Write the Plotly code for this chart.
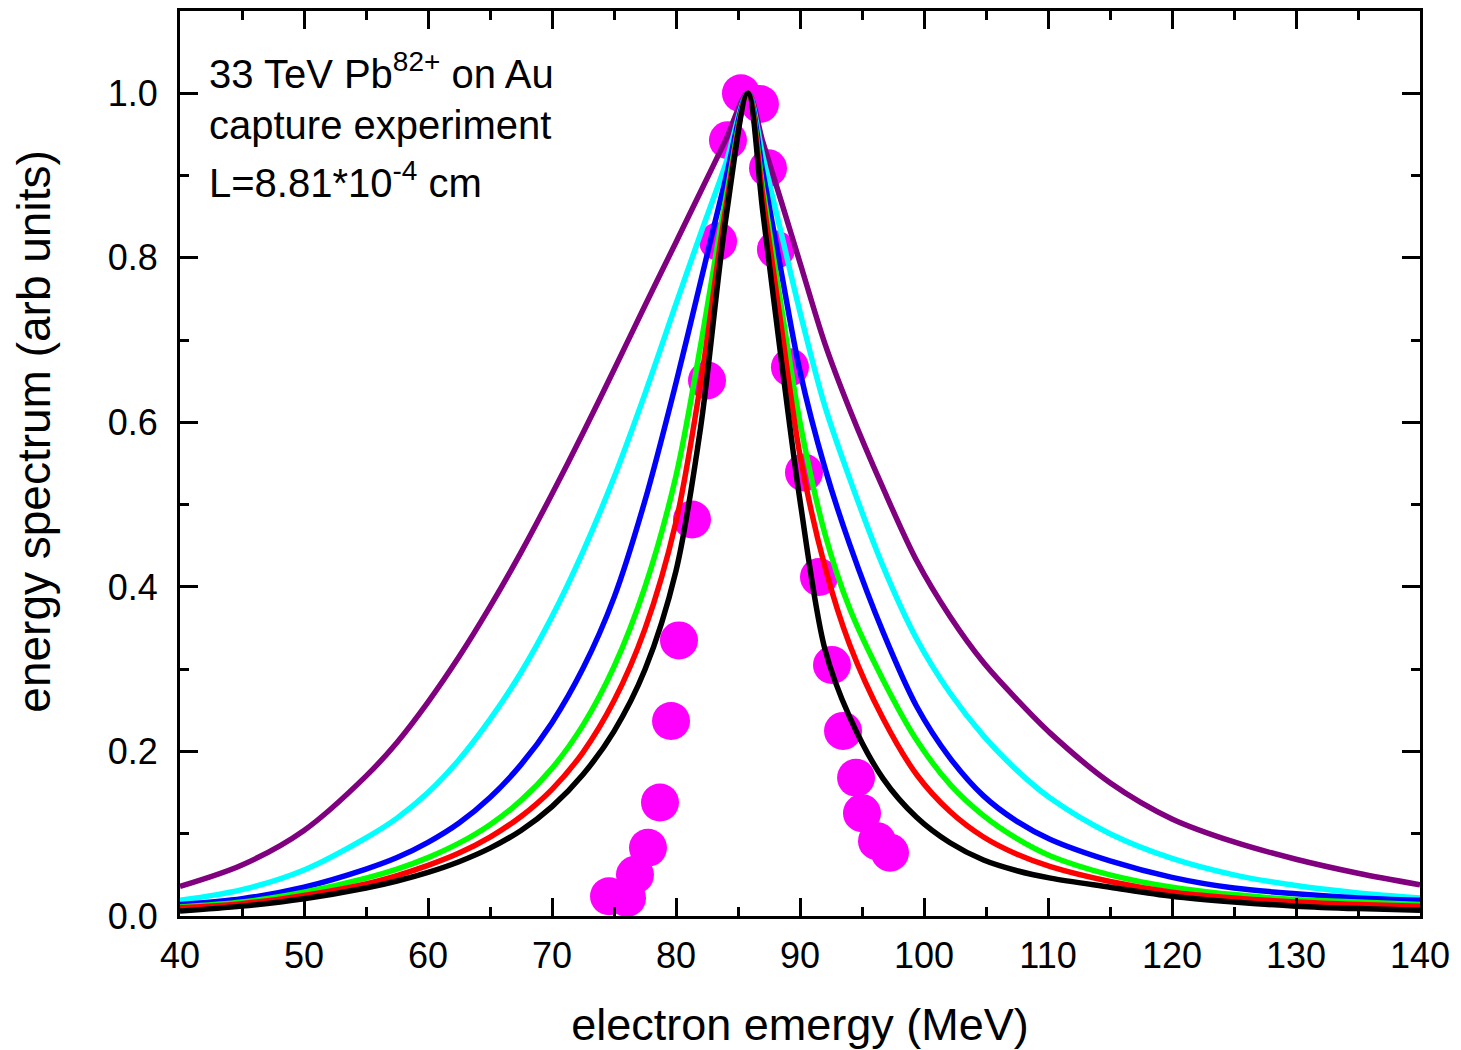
import plotly.graph_objects as go

# ---- data ----
x_grid = [40, 45, 50, 55, 57.5, 60, 62.5, 65, 67.5, 70, 72.5, 75, 77.5, 80, 82, 84, 85.8,
          87, 88.5, 90, 92, 94, 96.7, 99.4, 102.1, 104.8, 107.5, 110.2, 115, 120, 125, 130, 135, 140]

purple = [0.036, 0.062, 0.104, 0.170, 0.211, 0.260, 0.315, 0.376, 0.442, 0.513, 0.587, 0.664, 0.742, 0.819, 0.881, 0.943, 1.0,
          0.941, 0.868, 0.794, 0.696, 0.616, 0.520, 0.432, 0.364, 0.308, 0.263, 0.222, 0.162, 0.118, 0.090, 0.069, 0.052, 0.038]
cyan = [0.019, 0.032, 0.056, 0.095, 0.119, 0.150, 0.190, 0.239, 0.296, 0.364, 0.443, 0.533, 0.635, 0.744, 0.830, 0.914, 1.0,
        0.924, 0.829, 0.734, 0.620, 0.532, 0.425, 0.337, 0.271, 0.219, 0.177, 0.143, 0.100, 0.070, 0.050, 0.037, 0.028, 0.022]
blue = [0.014, 0.021, 0.035, 0.057, 0.071, 0.0895, 0.113, 0.144, 0.184, 0.235, 0.301, 0.387, 0.505, 0.648, 0.772, 0.896, 1.0,
        0.905, 0.782, 0.662, 0.545, 0.452, 0.345, 0.255, 0.192, 0.146, 0.115, 0.093, 0.067, 0.047, 0.034, 0.027, 0.022, 0.019]
green = [0.011, 0.017, 0.029, 0.046, 0.057, 0.071, 0.0885, 0.111, 0.1405, 0.1795, 0.232, 0.303, 0.400, 0.535, 0.695, 0.871, 1.0,
         0.885, 0.740, 0.600, 0.465, 0.374, 0.287, 0.214, 0.160, 0.122, 0.094, 0.073, 0.050, 0.035, 0.026, 0.020, 0.017, 0.014]
red = [0.010, 0.015, 0.025, 0.039, 0.049, 0.0615, 0.0765, 0.096, 0.121, 0.154, 0.199, 0.2615, 0.349, 0.479, 0.649, 0.859, 1.0,
       0.875, 0.715, 0.560, 0.425, 0.330, 0.240, 0.172, 0.127, 0.096, 0.075, 0.060, 0.042, 0.029, 0.022, 0.017, 0.014, 0.012]
black = [0.006, 0.012, 0.021, 0.034, 0.0425, 0.053, 0.066, 0.0825, 0.104, 0.133, 0.172, 0.2245, 0.2995, 0.4195, 0.5955, 0.8455, 1.0,
         0.856, 0.675, 0.505, 0.325, 0.242, 0.167, 0.120, 0.089, 0.068, 0.055, 0.046, 0.035, 0.024, 0.017, 0.012, 0.009, 0.007]

exp_x = [74.6, 76.05, 76.69, 77.74, 78.71, 79.60, 80.24, 81.29, 82.50, 83.39, 84.19, 85.24,
         86.77, 87.42, 88.06, 89.19, 90.32, 91.53, 92.58, 93.47, 94.52, 95.0, 96.21, 97.26]
exp_y = [0.024, 0.022, 0.050, 0.083, 0.138, 0.237, 0.335, 0.482, 0.651, 0.820, 0.943, 1.000,
         0.987, 0.909, 0.810, 0.667, 0.539, 0.412, 0.305, 0.225, 0.168, 0.125, 0.091, 0.077]

x_ticks = [40, 50, 60, 70, 80, 90, 100, 110, 120, 130, 140]
y_ticks = [0.0, 0.2, 0.4, 0.6, 0.8, 1.0]
y_tick_labels = ["0.0", "0.2", "0.4", "0.6", "0.8", "1.0"]

curves = [("purple", purple, "#800080"), ("cyan", cyan, "#00FFFF"), ("blue", blue, "#0000FF"),
          ("green", green, "#00FF00"), ("red", red, "#FF0000"), ("black", black, "#000000")]

FONT = "Liberation Sans, Arial, sans-serif"

fig = go.Figure()
fig.add_trace(go.Scatter(x=exp_x, y=exp_y, mode="markers",
                         marker=dict(size=38, color="#FF00FF", line=dict(width=0)),
                         showlegend=False))
for name, ys, col in curves:
    fig.add_trace(go.Scatter(x=x_grid, y=ys, mode="lines", name=name,
                             line=dict(color=col, width=5.5, shape="spline", smoothing=0.9),
                             showlegend=False))

axis_common = dict(showline=True, linecolor="black", linewidth=3, mirror="ticks",
                   ticks="inside", ticklen=18, tickwidth=3, tickcolor="black",
                   showgrid=False, zeroline=False,
                   tickfont=dict(family=FONT, size=36, color="black"))

fig.update_xaxes(range=[40, 140], tickvals=x_ticks, ticktext=[str(v) for v in x_ticks],
                 ticklabelstandoff=6,
                 minor=dict(ticks="inside", ticklen=9, tickwidth=3, tickcolor="black", dtick=5, showgrid=False),
                 title=dict(text="electron emergy (MeV)", font=dict(family=FONT, size=45, color="black"), standoff=34),
                 **axis_common)
fig.update_yaxes(range=[0, 1.1], tickvals=y_ticks, ticktext=y_tick_labels,
                 ticklabelstandoff=12,
                 minor=dict(ticks="inside", ticklen=9, tickwidth=3, tickcolor="black", dtick=0.1, showgrid=False),
                 **axis_common)

# y-axis title placed as in the reference (slightly above the axis centre)
fig.add_annotation(text="energy spectrum (arb units)", textangle=-90,
                   xref="paper", x=(34 - 180) / 1240, yref="paper", y=(918 - 431) / 910,
                   xanchor="center", yanchor="middle", showarrow=False,
                   font=dict(family=FONT, size=46, color="black"))

ann_font = dict(family=FONT, size=40, color="black")
lines = ["33 TeV Pb<sup>82+</sup> on Au", "capture experiment", "L=8.81*10<sup>-4</sup> cm"]
ys_ann = [1.027, 0.962, 0.895]
for t, yy in zip(lines, ys_ann):
    fig.add_annotation(text=t, xref="paper", x=0.0215, yref="y", y=yy, xanchor="left", yanchor="middle",
                       showarrow=False, font=ann_font)

fig.update_layout(width=1461, height=1050, autosize=False,
                  margin=dict(l=180, r=41, t=8, b=132),
                  paper_bgcolor="white", plot_bgcolor="white")

fig.write_html("out.html")
